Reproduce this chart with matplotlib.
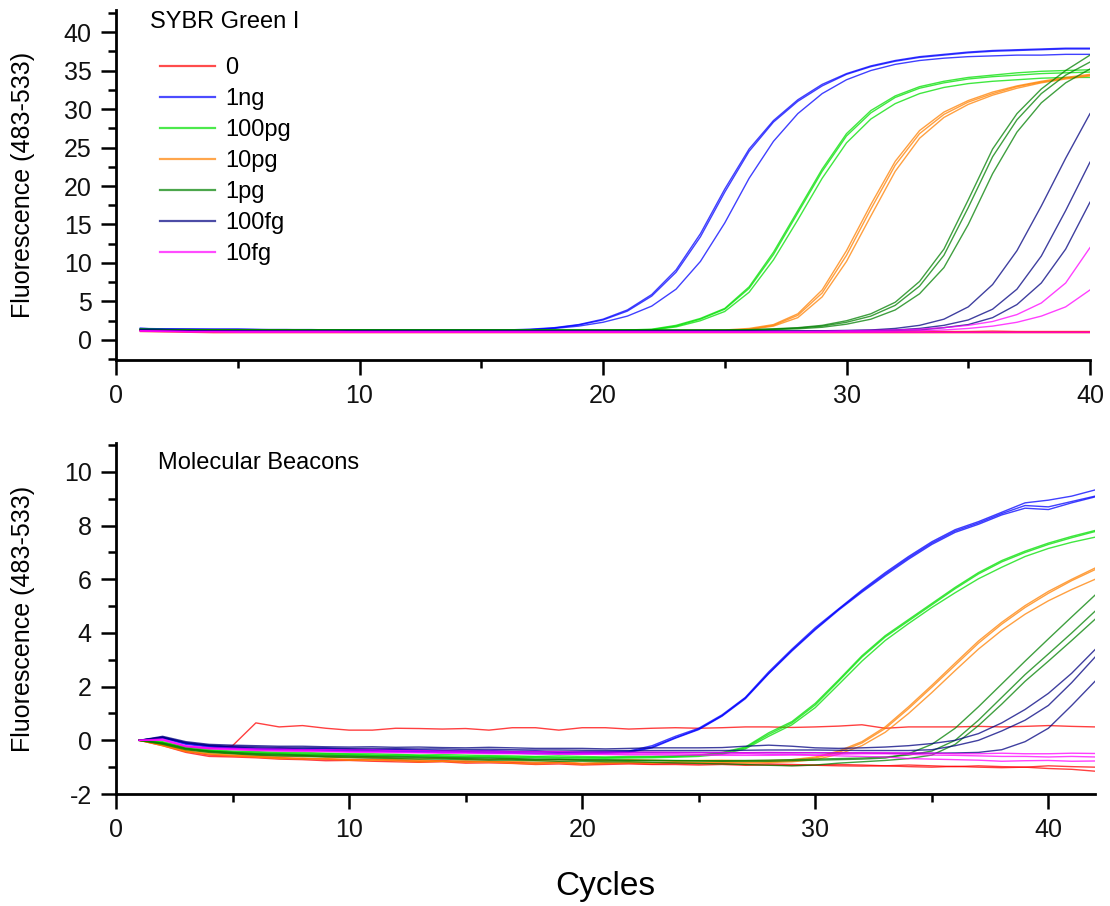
import matplotlib
matplotlib.use("Agg")
import matplotlib.pyplot as plt
from matplotlib.ticker import MultipleLocator
from matplotlib.lines import Line2D

plt.rcParams['font.family'] = ['Liberation Sans', 'DejaVu Sans']
plt.rcParams['axes.unicode_minus'] = False

# ---------------- data ----------------
labels = ['0', '1ng', '100pg', '10pg', '1pg', '100fg', '10fg']
colors = ['#ff0000', '#0000ff', '#00e000', '#ff8000', '#008000', '#000080', '#ff00ff']

cycles_top = list(range(1, 41))
cycles_bottom = list(range(1, 43))

# SYBR Green I (three replicates per amount)
sybr_0 = [
    [1.2, 1.15, 1.1, 1.1, 1.1, 1.05, 1.05, 1.05, 1.05, 1.05, 1.05, 1.05, 1.05, 1.0, 1.0, 1.0, 1.0, 1.0, 1.0, 1.0,
     1.0, 1.0, 1.0, 1.0, 1.0, 1.0, 1.0, 1.0, 1.0, 1.0, 1.0, 1.0, 1.0, 1.0, 1.0, 1.0, 1.0, 1.0, 1.0, 1.0],
    [1.3, 1.25, 1.2, 1.2, 1.2, 1.15, 1.15, 1.15, 1.15, 1.1, 1.1, 1.1, 1.1, 1.1, 1.1, 1.1, 1.1, 1.1, 1.1, 1.1,
     1.1, 1.1, 1.1, 1.1, 1.1, 1.1, 1.1, 1.1, 1.1, 1.1, 1.1, 1.1, 1.15, 1.1, 1.1, 1.15, 1.1, 1.1, 1.1, 1.1],
    [1.1, 1.05, 1.0, 0.95, 0.95, 0.95, 0.95, 0.95, 0.95, 0.95, 0.95, 0.95, 0.95, 0.95, 0.95, 0.95, 0.95, 0.95, 0.95, 0.95,
     0.95, 0.95, 0.95, 0.95, 0.95, 0.95, 0.95, 0.95, 0.95, 0.95, 0.95, 0.95, 0.95, 0.95, 0.95, 0.95, 0.95, 0.95, 0.95, 0.95],
]
sybr_1ng = [
    [1.5, 1.4, 1.4, 1.4, 1.4, 1.35, 1.35, 1.3, 1.3, 1.3, 1.3, 1.3, 1.3, 1.3, 1.3, 1.3, 1.4, 1.6, 2.0, 2.7,
     3.9, 5.9, 9.1, 13.8, 19.6, 24.8, 28.5, 31.2, 33.2, 34.6, 35.6, 36.3, 36.8, 37.1, 37.4, 37.6, 37.7, 37.8, 37.9, 37.9],
    [1.5, 1.45, 1.4, 1.4, 1.4, 1.35, 1.35, 1.35, 1.3, 1.3, 1.3, 1.3, 1.3, 1.3, 1.3, 1.3, 1.35, 1.55, 1.95, 2.6,
     3.75, 5.7, 8.8, 13.4, 19.2, 24.5, 28.3, 31.0, 33.0, 34.5, 35.5, 36.2, 36.7, 37.0, 37.3, 37.5, 37.6, 37.7, 37.8, 37.8],
    [1.5, 1.4, 1.4, 1.35, 1.35, 1.35, 1.3, 1.3, 1.3, 1.3, 1.3, 1.3, 1.3, 1.3, 1.3, 1.3, 1.3, 1.5, 1.8, 2.3,
     3.1, 4.4, 6.6, 10.2, 15.2, 21.0, 25.8, 29.4, 32.0, 33.8, 35.0, 35.8, 36.3, 36.6, 36.8, 36.9, 37.0, 37.0, 37.1, 37.1],
]
sybr_100pg = [
    [1.4, 1.35, 1.3, 1.3, 1.3, 1.3, 1.3, 1.25, 1.25, 1.25, 1.25, 1.25, 1.25, 1.25, 1.25, 1.25, 1.25, 1.25, 1.25, 1.25,
     1.3, 1.4, 1.9, 2.8, 4.1, 6.9, 11.4, 16.8, 22.2, 26.8, 29.8, 31.7, 32.9, 33.6, 34.1, 34.4, 34.7, 34.9, 35.0, 35.1],
    [1.35, 1.3, 1.3, 1.3, 1.3, 1.3, 1.25, 1.25, 1.25, 1.25, 1.25, 1.25, 1.25, 1.25, 1.25, 1.25, 1.25, 1.25, 1.25, 1.25,
     1.25, 1.35, 1.8, 2.7, 4.0, 6.7, 11.1, 16.5, 21.9, 26.5, 29.5, 31.5, 32.7, 33.4, 33.9, 34.2, 34.4, 34.6, 34.7, 34.8],
    [1.35, 1.3, 1.3, 1.25, 1.25, 1.25, 1.25, 1.25, 1.25, 1.25, 1.2, 1.2, 1.2, 1.2, 1.2, 1.2, 1.2, 1.2, 1.2, 1.2,
     1.25, 1.3, 1.7, 2.5, 3.7, 6.2, 10.4, 15.6, 21.0, 25.6, 28.7, 30.7, 32.0, 32.8, 33.3, 33.6, 33.8, 34.0, 34.1, 34.1],
]
sybr_10pg = [
    [1.35, 1.3, 1.3, 1.25, 1.25, 1.25, 1.25, 1.2, 1.2, 1.2, 1.2, 1.2, 1.2, 1.2, 1.2, 1.2, 1.2, 1.2, 1.2, 1.2,
     1.2, 1.2, 1.2, 1.25, 1.3, 1.5, 2.0, 3.4, 6.5, 11.6, 17.6, 23.2, 27.2, 29.6, 31.1, 32.2, 33.0, 33.6, 34.1, 34.5],
    [1.3, 1.3, 1.25, 1.25, 1.25, 1.2, 1.2, 1.2, 1.2, 1.2, 1.2, 1.2, 1.2, 1.2, 1.2, 1.2, 1.2, 1.2, 1.2, 1.2,
     1.2, 1.2, 1.2, 1.2, 1.25, 1.4, 1.9, 3.2, 6.1, 11.0, 17.0, 22.7, 26.8, 29.3, 30.9, 32.0, 32.9, 33.5, 34.0, 34.4],
    [1.3, 1.25, 1.25, 1.2, 1.2, 1.2, 1.2, 1.2, 1.2, 1.2, 1.15, 1.15, 1.15, 1.15, 1.15, 1.15, 1.15, 1.15, 1.15, 1.15,
     1.15, 1.15, 1.15, 1.2, 1.2, 1.35, 1.8, 2.9, 5.6, 10.2, 16.1, 21.9, 26.2, 28.9, 30.6, 31.8, 32.7, 33.4, 33.9, 34.3],
]
sybr_1pg = [
    [1.4, 1.35, 1.35, 1.3, 1.3, 1.3, 1.3, 1.3, 1.3, 1.3, 1.3, 1.3, 1.3, 1.3, 1.3, 1.3, 1.3, 1.3, 1.3, 1.3,
     1.3, 1.3, 1.3, 1.3, 1.3, 1.35, 1.45, 1.6, 1.9, 2.5, 3.4, 4.9, 7.6, 11.8, 18.2, 24.8, 29.4, 32.6, 35.0, 37.0],
    [1.4, 1.35, 1.3, 1.3, 1.3, 1.3, 1.3, 1.3, 1.3, 1.3, 1.3, 1.3, 1.3, 1.3, 1.3, 1.3, 1.3, 1.3, 1.3, 1.3,
     1.3, 1.3, 1.3, 1.3, 1.3, 1.3, 1.4, 1.55, 1.8, 2.3, 3.1, 4.5, 7.0, 11.0, 17.2, 23.8, 28.6, 32.0, 34.4, 36.1],
    [1.35, 1.3, 1.3, 1.3, 1.25, 1.25, 1.25, 1.25, 1.25, 1.25, 1.25, 1.25, 1.25, 1.25, 1.25, 1.25, 1.25, 1.25, 1.25, 1.25,
     1.25, 1.25, 1.25, 1.25, 1.25, 1.25, 1.35, 1.45, 1.65, 2.05, 2.7, 3.9, 6.0, 9.4, 15.0, 21.6, 27.0, 30.8, 33.4, 35.2],
]
sybr_100fg = [
    [1.3, 1.25, 1.2, 1.2, 1.2, 1.2, 1.15, 1.15, 1.15, 1.15, 1.15, 1.15, 1.15, 1.15, 1.15, 1.15, 1.15, 1.15, 1.15, 1.15,
     1.15, 1.15, 1.15, 1.15, 1.15, 1.15, 1.15, 1.15, 1.2, 1.25, 1.3, 1.5, 1.9, 2.7, 4.3, 7.2, 11.6, 17.4, 23.6, 29.4],
    [1.3, 1.25, 1.2, 1.2, 1.2, 1.15, 1.15, 1.15, 1.15, 1.15, 1.15, 1.15, 1.15, 1.15, 1.15, 1.15, 1.15, 1.15, 1.15, 1.15,
     1.15, 1.15, 1.15, 1.15, 1.15, 1.15, 1.15, 1.15, 1.15, 1.2, 1.25, 1.3, 1.5, 1.9, 2.6, 4.0, 6.6, 10.9, 16.8, 23.1],
    [1.25, 1.2, 1.2, 1.15, 1.15, 1.15, 1.15, 1.15, 1.15, 1.15, 1.15, 1.15, 1.15, 1.15, 1.15, 1.15, 1.15, 1.15, 1.15, 1.15,
     1.15, 1.15, 1.15, 1.15, 1.15, 1.15, 1.15, 1.15, 1.15, 1.15, 1.2, 1.25, 1.3, 1.6, 2.0, 2.9, 4.6, 7.4, 11.8, 17.9],
]
sybr_10fg = [
    [1.2, 1.15, 1.1, 1.1, 1.1, 1.1, 1.1, 1.1, 1.1, 1.1, 1.1, 1.1, 1.1, 1.1, 1.1, 1.1, 1.1, 1.1, 1.1, 1.1,
     1.1, 1.1, 1.1, 1.1, 1.1, 1.1, 1.1, 1.1, 1.15, 1.2, 1.25, 1.3, 1.4, 1.6, 1.9, 2.4, 3.3, 4.8, 7.4, 12.0],
    [1.2, 1.15, 1.1, 1.1, 1.1, 1.1, 1.1, 1.1, 1.1, 1.05, 1.05, 1.05, 1.05, 1.05, 1.05, 1.05, 1.05, 1.05, 1.05, 1.05,
     1.05, 1.05, 1.05, 1.05, 1.05, 1.05, 1.05, 1.05, 1.05, 1.1, 1.1, 1.15, 1.2, 1.3, 1.5, 1.8, 2.3, 3.1, 4.3, 6.5],
    [1.15, 1.1, 1.05, 1.05, 1.0, 1.0, 1.0, 1.0, 1.0, 1.0, 1.0, 1.0, 1.0, 1.0, 1.0, 1.0, 1.0, 1.0, 1.0, 1.0,
     1.0, 1.0, 1.0, 1.0, 1.0, 1.0, 1.0, 1.0, 1.0, 1.0, 1.0, 1.0, 1.0, 1.0, 1.0, 1.0, 1.0, 1.0, 1.0, 1.0],
]

# Molecular Beacons (three replicates per amount)
mb_0 = [
    [0, -0.1, -0.25, -0.3, -0.2, 0.65, 0.5, 0.55, 0.45, 0.38, 0.38, 0.45, 0.44, 0.42, 0.44, 0.38, 0.47, 0.47, 0.38, 0.47,
     0.47, 0.42, 0.45, 0.47, 0.45, 0.47, 0.5, 0.5, 0.48, 0.5, 0.53, 0.58, 0.45, 0.5, 0.5, 0.5, 0.52, 0.5, 0.52, 0.55,
     0.52, 0.5],
    [0, -0.15, -0.4, -0.55, -0.58, -0.6, -0.65, -0.68, -0.7, -0.72, -0.7, -0.74, -0.78, -0.75, -0.8, -0.78, -0.82, -0.85, -0.82, -0.88,
     -0.86, -0.85, -0.88, -0.86, -0.88, -0.86, -0.9, -0.88, -0.9, -0.92, -0.9, -0.92, -0.95, -0.92, -0.95, -0.98, -0.95, -0.98, -1.0, -0.95,
     -0.98, -1.0],
    [0, -0.2, -0.45, -0.6, -0.62, -0.65, -0.7, -0.72, -0.76, -0.75, -0.78, -0.8, -0.82, -0.8, -0.85, -0.84, -0.86, -0.9, -0.88, -0.92,
     -0.9, -0.88, -0.9, -0.9, -0.92, -0.9, -0.93, -0.92, -0.94, -0.93, -0.95, -0.96, -0.95, -0.98, -1.0, -0.97, -1.0, -1.02, -1.0, -1.05,
     -1.08, -1.15],
]
mb_1ng = [
    [0, 0.12, -0.1, -0.2, -0.25, -0.3, -0.3, -0.32, -0.3, -0.33, -0.35, -0.34, -0.36, -0.38, -0.4, -0.38, -0.42, -0.4, -0.45, -0.44,
     -0.42, -0.4, -0.2, 0.15, 0.45, 0.95, 1.6, 2.55, 3.4, 4.2, 4.9, 5.6, 6.25, 6.85, 7.4, 7.85, 8.15, 8.5, 8.85, 8.95,
     9.1, 9.33],
    [0, 0.08, -0.15, -0.25, -0.3, -0.32, -0.35, -0.35, -0.38, -0.4, -0.4, -0.42, -0.44, -0.45, -0.45, -0.47, -0.48, -0.5, -0.5, -0.5,
     -0.48, -0.45, -0.28, 0.08, 0.4, 0.9, 1.55, 2.48, 3.33, 4.12, 4.85, 5.52, 6.15, 6.75, 7.3, 7.75, 8.05, 8.4, 8.65, 8.6,
     8.85, 9.07],
    [0, 0.1, -0.12, -0.22, -0.28, -0.33, -0.34, -0.36, -0.36, -0.38, -0.4, -0.4, -0.41, -0.43, -0.44, -0.45, -0.46, -0.47, -0.48, -0.47,
     -0.46, -0.43, -0.25, 0.1, 0.42, 0.92, 1.58, 2.5, 3.36, 4.15, 4.88, 5.56, 6.2, 6.8, 7.35, 7.8, 8.1, 8.45, 8.75, 8.7,
     8.9, 9.1],
]
mb_100pg = [
    [0, -0.05, -0.25, -0.35, -0.4, -0.42, -0.45, -0.45, -0.48, -0.5, -0.5, -0.52, -0.55, -0.53, -0.55, -0.57, -0.58, -0.6, -0.58, -0.6,
     -0.62, -0.6, -0.6, -0.58, -0.55, -0.45, -0.25, 0.28, 0.7, 1.38, 2.25, 3.15, 3.9, 4.5, 5.1, 5.7, 6.25, 6.7, 7.05, 7.35,
     7.6, 7.82],
    [0, -0.08, -0.3, -0.38, -0.43, -0.45, -0.48, -0.5, -0.5, -0.52, -0.55, -0.55, -0.56, -0.58, -0.6, -0.6, -0.62, -0.62, -0.63, -0.65,
     -0.64, -0.63, -0.62, -0.6, -0.56, -0.48, -0.28, 0.22, 0.65, 1.32, 2.2, 3.1, 3.85, 4.45, 5.05, 5.65, 6.2, 6.65, 7.0, 7.3,
     7.55, 7.78],
    [0, -0.1, -0.3, -0.4, -0.45, -0.48, -0.5, -0.52, -0.53, -0.55, -0.56, -0.58, -0.6, -0.6, -0.62, -0.63, -0.64, -0.65, -0.66, -0.66,
     -0.67, -0.66, -0.65, -0.63, -0.6, -0.52, -0.32, 0.15, 0.58, 1.22, 2.08, 2.95, 3.72, 4.35, 4.95, 5.5, 6.02, 6.45, 6.85, 7.15,
     7.38, 7.57],
]
mb_10pg = [
    [0, -0.15, -0.35, -0.45, -0.5, -0.55, -0.6, -0.58, -0.62, -0.65, -0.63, -0.68, -0.7, -0.66, -0.7, -0.72, -0.7, -0.75, -0.72, -0.74,
     -0.76, -0.72, -0.74, -0.76, -0.75, -0.74, -0.76, -0.75, -0.72, -0.62, -0.4, -0.05, 0.5, 1.25, 2.05, 2.88, 3.7, 4.4, 5.02, 5.55,
     6.0, 6.42],
    [0, -0.18, -0.4, -0.5, -0.55, -0.6, -0.65, -0.7, -0.68, -0.72, -0.75, -0.72, -0.75, -0.78, -0.76, -0.8, -0.78, -0.82, -0.8, -0.85,
     -0.82, -0.8, -0.83, -0.8, -0.82, -0.8, -0.82, -0.8, -0.76, -0.66, -0.45, -0.1, 0.44, 1.18, 1.98, 2.8, 3.62, 4.33, 4.95, 5.48,
     5.95, 6.36],
    [0, -0.2, -0.42, -0.52, -0.58, -0.62, -0.68, -0.66, -0.7, -0.74, -0.72, -0.76, -0.8, -0.78, -0.82, -0.8, -0.85, -0.88, -0.84, -0.9,
     -0.86, -0.84, -0.85, -0.82, -0.84, -0.82, -0.85, -0.83, -0.8, -0.72, -0.52, -0.2, 0.3, 1.0, 1.78, 2.6, 3.4, 4.1, 4.7, 5.2,
     5.62, 6.0],
]
mb_1pg = [
    [0, -0.12, -0.32, -0.42, -0.48, -0.52, -0.55, -0.56, -0.6, -0.6, -0.62, -0.64, -0.65, -0.66, -0.68, -0.7, -0.7, -0.72, -0.72, -0.74,
     -0.74, -0.75, -0.76, -0.76, -0.77, -0.78, -0.78, -0.78, -0.76, -0.74, -0.72, -0.7, -0.66, -0.5, -0.15, 0.45, 1.25, 2.1, 2.95, 3.78,
     4.6, 5.41],
    [0, -0.1, -0.3, -0.4, -0.45, -0.5, -0.52, -0.55, -0.56, -0.58, -0.6, -0.6, -0.62, -0.64, -0.65, -0.66, -0.68, -0.7, -0.7, -0.72,
     -0.72, -0.74, -0.74, -0.75, -0.76, -0.76, -0.75, -0.74, -0.72, -0.7, -0.68, -0.66, -0.62, -0.55, -0.4, 0.0, 0.75, 1.6, 2.45, 3.22,
     4.0, 4.81],
    [0, -0.15, -0.35, -0.45, -0.5, -0.55, -0.58, -0.6, -0.62, -0.64, -0.66, -0.68, -0.7, -0.7, -0.72, -0.74, -0.74, -0.76, -0.78, -0.78,
     -0.8, -0.8, -0.82, -0.84, -0.86, -0.88, -0.9, -0.93, -0.95, -0.92, -0.85, -0.8, -0.75, -0.68, -0.55, -0.15, 0.55, 1.35, 2.2, 2.95,
     3.72, 4.51],
]
mb_100fg = [
    [0, 0.15, -0.05, -0.15, -0.18, -0.2, -0.22, -0.22, -0.24, -0.25, -0.24, -0.26, -0.25, -0.27, -0.28, -0.26, -0.28, -0.3, -0.3, -0.3,
     -0.32, -0.3, -0.28, -0.28, -0.28, -0.27, -0.22, -0.18, -0.22, -0.28, -0.3, -0.28, -0.25, -0.2, -0.12, 0.0, 0.25, 0.65, 1.15, 1.75,
     2.5, 3.38],
    [0, 0.12, -0.08, -0.18, -0.22, -0.24, -0.26, -0.27, -0.28, -0.3, -0.3, -0.31, -0.32, -0.32, -0.34, -0.33, -0.35, -0.36, -0.36, -0.37,
     -0.38, -0.38, -0.38, -0.38, -0.38, -0.38, -0.37, -0.36, -0.36, -0.36, -0.37, -0.38, -0.38, -0.38, -0.35, -0.2, 0.0, 0.35, 0.75, 1.3,
     2.15, 3.1],
    [0, 0.1, -0.1, -0.2, -0.25, -0.28, -0.3, -0.32, -0.33, -0.34, -0.36, -0.36, -0.37, -0.38, -0.4, -0.4, -0.41, -0.42, -0.43, -0.43,
     -0.44, -0.44, -0.45, -0.45, -0.45, -0.46, -0.46, -0.46, -0.46, -0.46, -0.47, -0.47, -0.48, -0.48, -0.48, -0.47, -0.45, -0.35, -0.05, 0.45,
     1.3, 2.2],
]
mb_10fg = [
    [0, 0.05, -0.2, -0.28, -0.3, -0.32, -0.33, -0.35, -0.35, -0.36, -0.36, -0.38, -0.38, -0.4, -0.4, -0.4, -0.42, -0.42, -0.42, -0.44,
     -0.44, -0.45, -0.44, -0.45, -0.46, -0.45, -0.46, -0.45, -0.46, -0.46, -0.47, -0.46, -0.46, -0.47, -0.48, -0.5, -0.5, -0.48, -0.5, -0.5,
     -0.48, -0.49],
    [0, 0.0, -0.22, -0.3, -0.33, -0.36, -0.38, -0.38, -0.4, -0.42, -0.42, -0.43, -0.44, -0.45, -0.45, -0.46, -0.47, -0.48, -0.48, -0.5,
     -0.5, -0.5, -0.5, -0.5, -0.52, -0.52, -0.5, -0.52, -0.52, -0.55, -0.58, -0.6, -0.62, -0.68, -0.7, -0.72, -0.74, -0.78, -0.76, -0.75,
     -0.78, -0.77],
    [0, 0.02, -0.24, -0.32, -0.35, -0.38, -0.4, -0.41, -0.42, -0.44, -0.45, -0.46, -0.47, -0.48, -0.48, -0.5, -0.5, -0.51, -0.52, -0.52,
     -0.53, -0.54, -0.54, -0.55, -0.55, -0.56, -0.56, -0.56, -0.55, -0.55, -0.52, -0.5, -0.5, -0.52, -0.55, -0.56, -0.58, -0.6, -0.6, -0.62,
     -0.6, -0.62],
]

sybr_groups = [sybr_0, sybr_1ng, sybr_100pg, sybr_10pg, sybr_1pg, sybr_100fg, sybr_10fg]
mb_groups = [mb_0, mb_1ng, mb_100pg, mb_10pg, mb_1pg, mb_100fg, mb_10fg]

for g in sybr_groups:
    for s in g:
        assert len(s) == len(cycles_top), len(s)
for g in mb_groups:
    for s in g:
        assert len(s) == len(cycles_bottom), len(s)

# ---------------- figure ----------------
W, H = 1110, 906
fig = plt.figure(figsize=(W / 100, H / 100), dpi=100)

def fx(px):
    return px / W

def fy(py):
    return 1 - py / H

ax1 = fig.add_axes([fx(116), fy(360), fx(1090) - fx(116), fy(10) - fy(360)])
ax2 = fig.add_axes([fx(116), fy(794), fx(1095) - fx(116), fy(443) - fy(794)])

LW = 1.0
ALPHA = 0.75

for grp, col in zip(sybr_groups, colors):
    for s in grp:
        ax1.plot(cycles_top, s, color=col, lw=LW, alpha=ALPHA, solid_joinstyle='round')
for grp, col in zip(mb_groups, colors):
    for s in grp:
        ax2.plot(cycles_bottom, s, color=col, lw=LW, alpha=ALPHA, solid_joinstyle='round')

ax1.set_xlim(0, 40)
ax1.set_ylim(-2.6, 42.86)
ax2.set_xlim(0, 42)
ax2.set_ylim(-2.0, 11.08)

ax1.xaxis.set_major_locator(MultipleLocator(10))
ax1.xaxis.set_minor_locator(MultipleLocator(5))
ax1.yaxis.set_major_locator(MultipleLocator(5))
ax1.yaxis.set_minor_locator(MultipleLocator(2.5))
ax2.xaxis.set_major_locator(MultipleLocator(10))
ax2.xaxis.set_minor_locator(MultipleLocator(5))
ax2.yaxis.set_major_locator(MultipleLocator(2))
ax2.yaxis.set_minor_locator(MultipleLocator(1))

for ax in (ax1, ax2):
    ax.spines['top'].set_visible(False)
    ax.spines['right'].set_visible(False)
    for sp in ('left', 'bottom'):
        ax.spines[sp].set_linewidth(2.0)
    ax.tick_params(which='major', direction='out', length=10.5, width=1.8,
                   labelsize=18, colors='black', labelcolor='#111111')
    ax.tick_params(which='minor', direction='out', length=5.5, width=1.8)
    ax.tick_params(axis='y', which='major', pad=7)
    ax.tick_params(axis='x', which='major', pad=7)
    ax.set_ylabel('Fluorescence (483-533)', fontsize=18)
    ax.set_facecolor('white')

ax1.yaxis.set_label_coords((35 - 116) / 974, 0.5)
ax2.yaxis.set_label_coords((35 - 116) / 979, 0.5)

ax2.set_xlabel('Cycles', fontsize=24)
ax2.xaxis.set_label_coords(0.5, (794 - 871) / 351)

fig.text(fx(150), fy(22), 'SYBR Green I', fontsize=17, ha='left', va='center')
fig.text(fx(158), fy(463), 'Molecular Beacons', fontsize=17, ha='left', va='center')

handles = [Line2D([0], [0], color=c, lw=1.6, alpha=0.7) for c in colors]
leg = ax1.legend(handles, labels, loc='upper left',
                 bbox_to_anchor=(fx(160), fy(57)), bbox_transform=fig.transFigure,
                 frameon=False, fontsize=17, handlelength=2.35, handletextpad=0.4,
                 labelspacing=0.38, borderpad=0.0, borderaxespad=0.0)

fig.savefig('out.png', dpi=100, facecolor='white')
